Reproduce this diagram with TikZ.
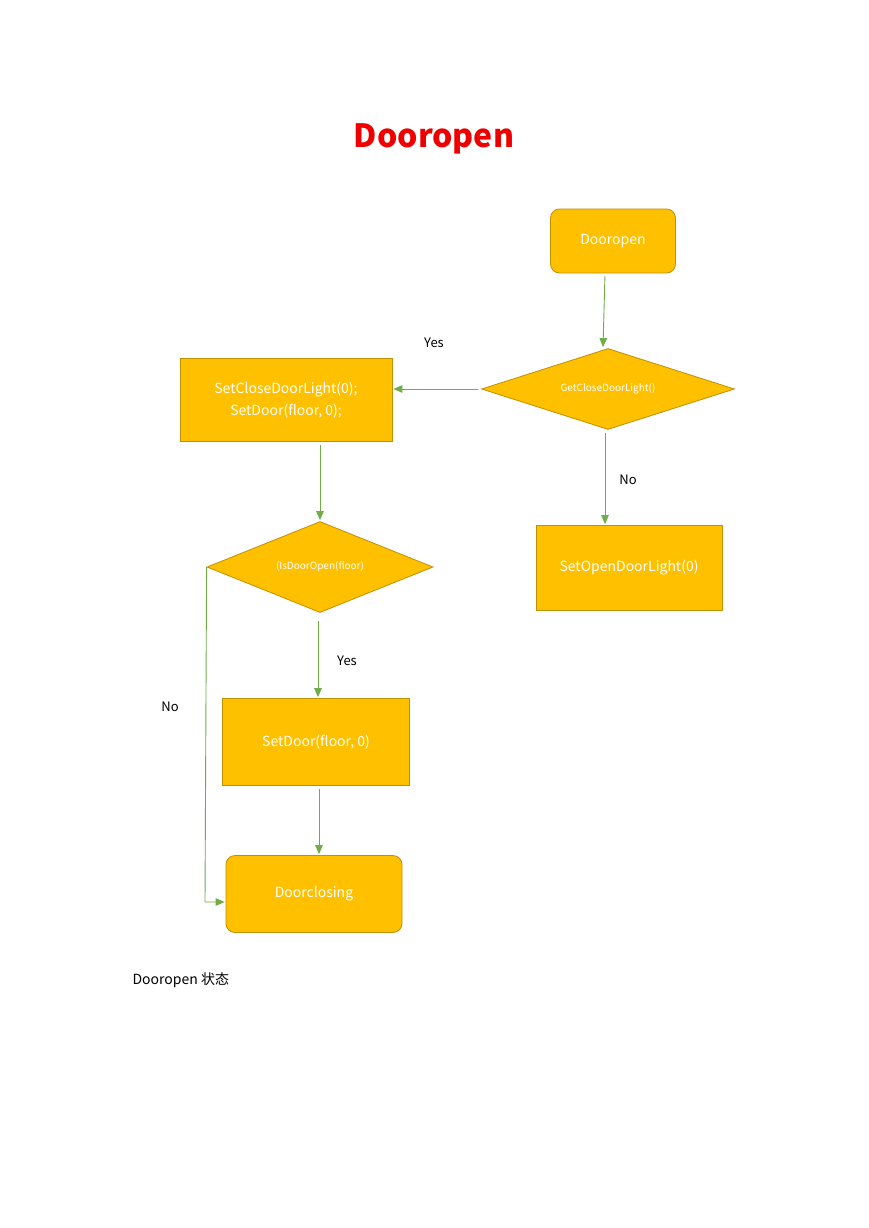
\documentclass[tikz,border=0pt]{standalone}
\usepackage{fontspec}
\setmainfont{Noto Sans CJK SC}
\usetikzlibrary{shapes.geometric, arrows.meta}
\definecolor{boxfill}{HTML}{FFC000}
\definecolor{boxline}{HTML}{BF9000}
\definecolor{flowgreen}{HTML}{70AD47}
\definecolor{titlered}{HTML}{EE0000}

\begin{document}
\begin{tikzpicture}[x = 1pt, y = -1pt, % pixel units, y downwards
                > = {Triangle[length=9pt, width=7.5pt]}, % arrow head style
                shorten > = 1pt, shorten < = 3pt
            ]

            \useasboundingbox[fill = white] (0,0) rectangle (869,1228);

            \tikzstyle{state}=[draw = boxline, fill = boxfill, rounded corners = 9pt,
            text = white, font = \fontsize{14}{17}\selectfont, line width = 0.8pt]
            \tikzstyle{action}=[draw = boxline, fill = boxfill, text = white,
            font = \fontsize{14}{22}\selectfont, line width = 0.8pt, align = center]
            \tikzstyle{test}=[draw = boxline, fill = boxfill, diamond, aspect = 3,
            inner sep = 0pt, text = white, font = \fontsize{10}{12}\selectfont,
            line width = 0.8pt]
            \tikzstyle{flow}=[draw = flowgreen, line width = 0.9pt]
            \tikzstyle{answer}=[font = \fontsize{13}{15}\selectfont, text = black]

            \node[text = titlered, font = \fontsize{32}{36}\selectfont\bfseries]
            (title) at (434,139) {Dooropen};

            \node[state, minimum width = 125pt, minimum height = 64pt] (open) at
            (613,241) {Dooropen};
            \node[test, minimum width = 253pt, minimum height = 81pt] (closelight)
            at (608,389) {GetCloseDoorLight()};
            \node[action, minimum width = 212pt, minimum height = 83pt] (setclose)
            at (286,400) {SetCloseDoorLight(0);\\SetDoor(floor, 0);};
            \node[action, minimum width = 186pt, minimum height = 85pt] (setopen)
            at (629,568) {SetOpenDoorLight(0)};
            \node[test, minimum width = 226pt, minimum height = 91pt] (isopen) at
            (320,567) {(IsDoorOpen(floor)};
            \node[action, minimum width = 187pt, minimum height = 87pt] (setdoor)
            at (316,742) {SetDoor(floor, 0)};
            \node[state, minimum width = 176pt, minimum height = 77pt] (closing) at
            (314,894) {Doorclosing};

            \coordinate (nobend) at (205,902);

            \draw[flow, ->] ([xshift=-8pt]open.south) -- ([xshift=-5pt]closelight.north);
            \draw[flow, ->] (closelight.west) -- (closelight.west -| setclose.east);
            \draw[flow, ->] ([xshift=-3pt]closelight.south) -- ([xshift=-3pt]closelight.south |- setopen.north);
            \draw[flow, ->] (setclose.south -| isopen.north) -- (isopen.north);
            \draw[flow, ->, shorten < = 8pt] ([xshift=-2pt]isopen.south) -- ([xshift=-2pt]isopen.south |- setdoor.north);
            \draw[flow, ->] ([xshift=5pt]setdoor.south -| closing.north) -- ([xshift=5pt]closing.north);
            \draw[flow, ->, shorten < = 0pt] (isopen.west) -- (nobend) -- (nobend -| closing.west);

            \node[answer] (yes1) at (434,343) {Yes};
            \node[answer] (no1) at (628,480) {No};
            \node[answer] (yes2) at (347,661) {Yes};
            \node[answer] (no2) at (170,707) {No};

            \node[answer, anchor = west, font = \fontsize{14}{16}\selectfont]
            (caption) at (129,980) {Dooropen 状态};
        \end{tikzpicture}
\end{document}
